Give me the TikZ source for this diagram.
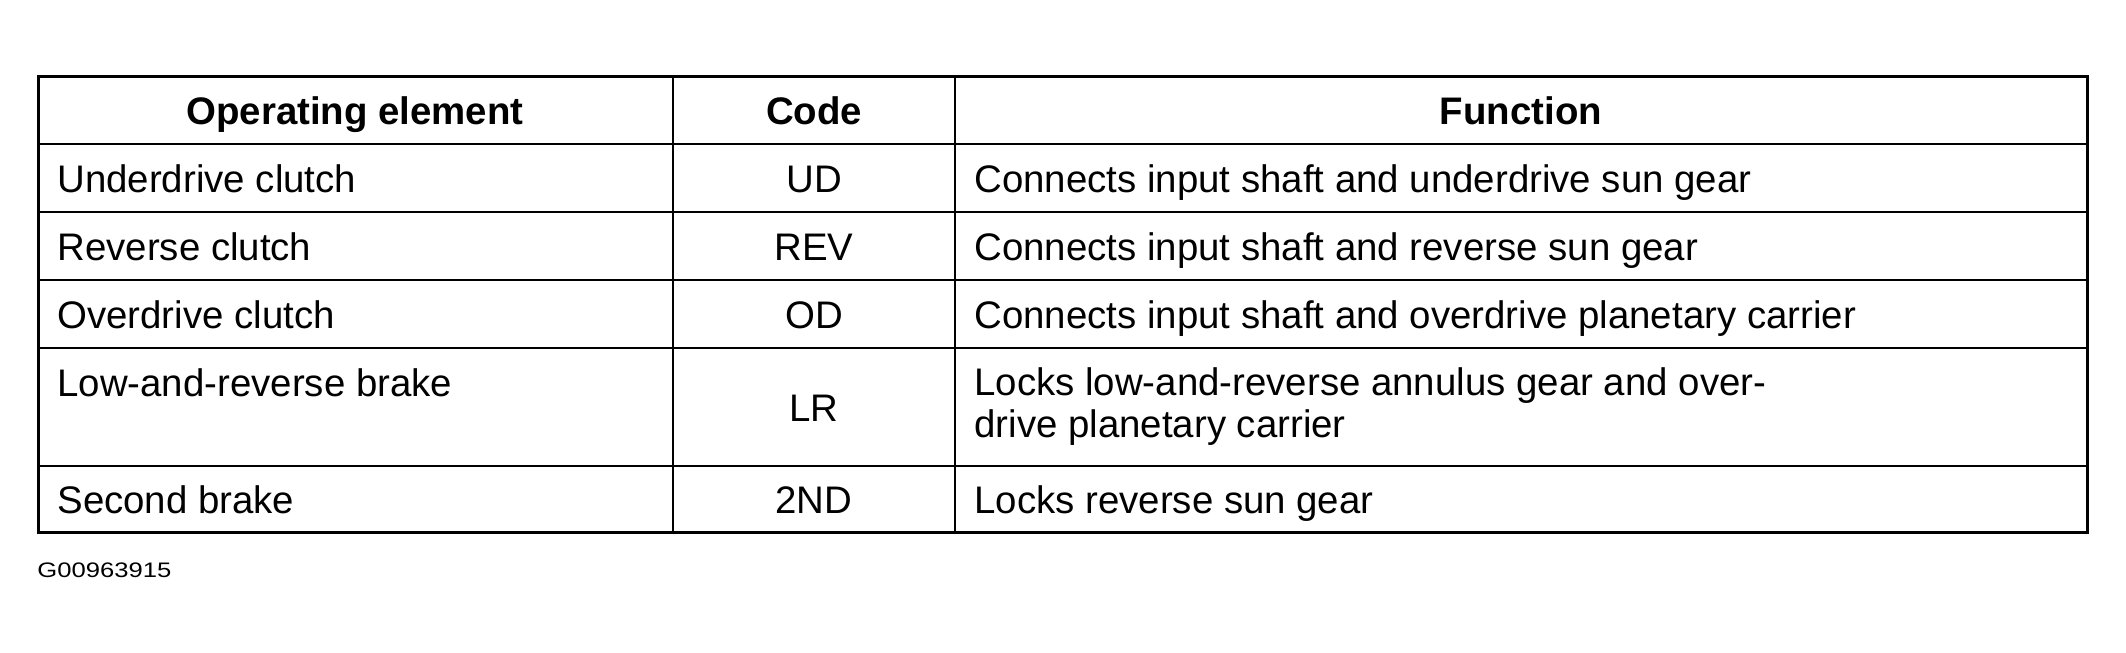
\documentclass[tikz,border=0pt]{standalone}
\usepackage{fontspec}
\setmainfont{Liberation Sans}
\begin{document}
\begin{tikzpicture}[x=0.5pt,y=-0.5pt,
  cell/.style={inner sep=0pt,font=\fontsize{19.2pt}{21pt}\selectfont},
  headcell/.style={cell,font=\fontsize{19.2pt}{21pt}\selectfont\bfseries,anchor=base},
  lefttext/.style={cell,anchor=base west},
  midtext/.style={cell,anchor=base},
  outer/.style={line width=1.5pt},
  hrule/.style={line width=1.4pt},
  vrule/.style={line width=1pt}]
\useasboundingbox (0,0) rectangle (2126,653);
\fill[white] (0,0) rectangle (2126,653);
% grid
\draw[hrule] (38,144) -- (2087,144);
\draw[hrule] (38,212) -- (2087,212);
\draw[hrule] (38,280) -- (2087,280);
\draw[hrule] (38,348) -- (2087,348);
\draw[hrule] (38,466) -- (2087,466);
\draw[vrule] (673,76) -- (673,532);
\draw[vrule] (955,76) -- (955,532);
\draw[outer] (38,76) rectangle (2087,532);
% header
\node[headcell] (h1) at (355,124) {Operating element};
\node[headcell] (h2) at (814,124) {Code};
\node[headcell] (h3) at (1521,124) {Function};
% row 1
\node[lefttext] (e1) at (57,192) {Underdrive clutch};
\node[midtext] (c1) at (814,192) {UD};
\node[lefttext] (f1) at (974,192) {Connects input shaft and underdrive sun gear};
% row 2
\node[lefttext] (e2) at (57,260) {Reverse clutch};
\node[midtext] (c2) at (814,260) {REV};
\node[lefttext] (f2) at (974,260) {Connects input shaft and reverse sun gear};
% row 3
\node[lefttext] (e3) at (57,328) {Overdrive clutch};
\node[midtext] (c3) at (814,328) {OD};
\node[lefttext] (f3) at (974,328) {Connects input shaft and overdrive planetary carrier};
% row 4
\node[lefttext] (e4) at (57,396) {Low-and-reverse brake};
\node[midtext] (c4) at (814,421) {LR};
\node[lefttext] (f4a) at (974,395) {Locks low-and-reverse annulus gear and over-};
\node[lefttext] (f4b) at (974,437) {drive planetary carrier};
% row 5
\node[lefttext] (e5) at (57,513) {Second brake};
\node[midtext] (c5) at (814,513) {2ND};
\node[lefttext] (f5) at (974,513) {Locks reverse sun gear};
% footer
\node[inner sep=0pt,anchor=base west,font=\fontsize{10.5pt}{12pt}\selectfont,xscale=1.22,transform shape] (code) at (37,577) {G00963915};
\end{tikzpicture}
\end{document}
